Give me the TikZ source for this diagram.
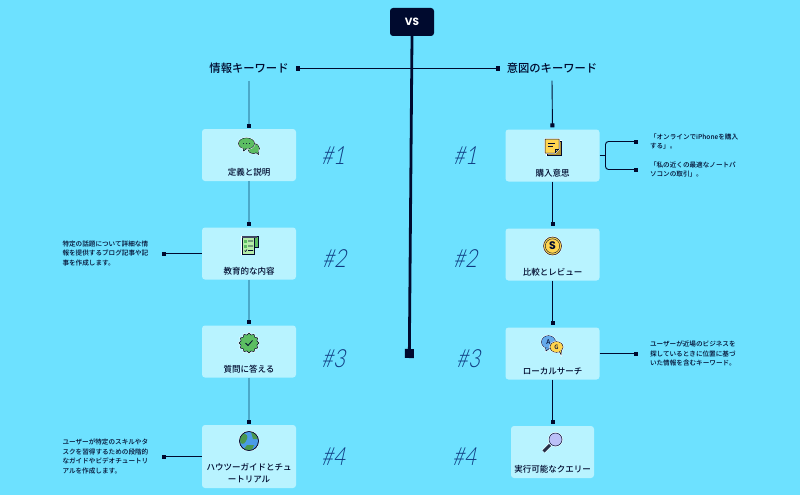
\documentclass[tikz,border=0pt]{standalone}
\usepackage{fontspec}
\setmainfont{Noto Sans CJK JP Medium}[BoldFont={Noto Sans CJK JP Bold}]
\newfontfamily\hashfont[FakeSlant=0.22,FakeStretch=0.82]{Lato Light}
\newfontfamily\vsfont{Poppins}[BoldFont={Poppins Bold}]
\usetikzlibrary{positioning,arrows.meta,shapes.geometric}
\definecolor{skybg}{HTML}{6DE1FF}
\definecolor{cardbg}{HTML}{B8F3FF}
\definecolor{navy}{HTML}{000A2E}
\definecolor{steel}{HTML}{4BA9C9}
\definecolor{hashblue}{HTML}{0F3A80}
\definecolor{leafgreen}{HTML}{5CBE62}
\definecolor{paleleaf}{HTML}{B5EDA8}
\definecolor{sun}{HTML}{FFD54F}
\definecolor{sky}{HTML}{4A9BE8}
\definecolor{lilac}{HTML}{BBC0F7}

\begin{document}
\begin{tikzpicture}[x=1pt,y=-1pt]
\tikzstyle{card}=[fill=cardbg,rounded corners=3pt,minimum width=94pt,minimum height=52pt,inner sep=0pt]
\tikzstyle{cardtext}=[font=\fontsize{8.5}{12}\selectfont,text=navy,align=center,inner sep=0pt,text depth=1.5pt]
\tikzstyle{head}=[font=\fontsize{11.3}{13}\selectfont,text=navy,inner sep=0pt,outer sep=7pt]
\tikzstyle{note}=[font=\fontsize{6.6}{9.5}\selectfont,text=navy,align=left,text width=87pt,inner sep=0pt,outer sep=12pt]
\tikzstyle{hash}=[font=\hashfont\fontsize{25}{25}\selectfont,text=hashblue,inner sep=0pt]
\tikzstyle{softwire}=[draw=steel,line width=1.8pt,-{Square[length=4pt,width=4pt,color=navy]}]
\tikzstyle{wire}=[draw=navy,line width=0.9pt,-{Square[length=4pt,width=4pt]}]
\tikzstyle{icon}=[draw=navy,line width=0.5pt,preaction={draw=white,line width=1.5pt}]

\useasboundingbox (0,0) rectangle (800,495);
\fill[skybg] (0,0) rectangle (800,495);

\node[fill=navy,rounded corners=3pt,minimum width=44pt,minimum height=28pt,inner sep=0pt,text=white,font=\vsfont\bfseries\fontsize{10.5}{10.5}\selectfont] (vs) at (412,22) {VS};
\coordinate (vsend) at (409.3,358);
\draw[draw=navy,line width=2.8pt,-{Square[length=9pt,width=9pt]}] (vs.south) -- (vsend);

\node[head] (info) at (249,68.5) {情報キーワード};
\node[head] (intent) at (552,68.5) {意図のキーワード};
\draw[wire,{Square[length=4pt,width=4pt]}-{Square[length=4pt,width=4pt]}] (info.east) -- (intent.west);

\node[card] (define) at (249,155) {};
\node[card] (teach) at (249,253.5) {};
\node[card] (answer) at (249,351.5) {};
\node[card,minimum height=63pt] (howto) at (249,456.5) {};
\node[card] (buy) at (552.5,155.5) {};
\node[card] (compare) at (552.5,254.5) {};
\node[card] (local) at (552.5,353.5) {};
\node[card,minimum width=83pt] (query) at (552.5,452) {};

\node[cardtext,above=4pt of define.south] (definelabel) {定義と説明};
\node[cardtext,above=4pt of teach.south] (teachlabel) {教育的な内容};
\node[cardtext,above=4pt of answer.south] (answerlabel) {質問に答える};
\node[cardtext,above=4pt of howto.south] (howtolabel) {ハウツーガイドとチュ\\ートリアル};
\node[cardtext,above=4pt of buy.south] (buylabel) {購入意思};
\node[cardtext,above=4pt of compare.south] (comparelabel) {比較とレビュー};
\node[cardtext,above=4pt of local.south] (locallabel) {ローカルサーチ};
\node[cardtext,above=4pt of query.south] (querylabel) {実行可能なクエリー};

\draw[softwire,shorten >=1pt] (info.south) -- (define.north);
\draw[softwire,shorten >=1pt] (define.south) -- (teach.north);
\draw[softwire,shorten >=1pt] (teach.south) -- (answer.north);
\draw[softwire,shorten >=1pt] (answer.south) -- (howto.north);
\draw[wire,shorten >=2pt] (intent.south) -- (buy.north);
\draw[wire,shorten >=2pt] (buy.south) -- (compare.north);
\draw[wire,shorten >=2pt] (compare.south) -- (local.north);
\draw[wire,shorten >=2pt] (local.south) -- (query.north);

\node[note] (teachnote) at (106,253.5) {特定の話題について詳細な情\\報を提供するブログ記事や記\\事を作成します。};
\node[note] (howtonote) at (106,456.5) {ユーザーが特定のスキルやタ\\スクを習得するための段階的\\なガイドやビデオチュートリ\\アルを作成します。};
\node[note] (buynoteone) at (693.5,141.5) {「オンラインでiPhoneを購入\\する」。};
\node[note] (buynotetwo) at (693.5,169.5) {「私の近くの最適なノートパ\\ソコンの取引」。};
\node[note] (localnote) at (693.5,353.5) {ユーザーが近場のビジネスを\\探しているときに位置に基づ\\いた情報を含むキーワード。};

\draw[wire] (teach.west) -- (teachnote.east);
\draw[wire] (howto.west) -- (howtonote.east);
\draw[wire] (local.east) -- (localnote.west);
\coordinate (fork) at (605.5,155.5);
\draw[draw=navy,line width=0.9pt] (buy.east) -- (fork);
\draw[wire,rounded corners=3pt] (fork) |- (buynoteone.west);
\draw[wire,rounded corners=3pt] (fork) |- (buynotetwo.west);

\node[hash] (hashone) at (333,156) {\#1};
\node[hash] (hashtwo) at (334,259) {\#2};
\node[hash] (hashthree) at (333,359) {\#3};
\node[hash] (hashfour) at (333,457) {\#4};
\node[hash] (hashfive) at (465,156) {\#1};
\node[hash] (hashsix) at (465,259) {\#2};
\node[hash] (hashseven) at (468,359) {\#3};
\node[hash] (hasheight) at (464,457) {\#4};

\draw[icon,fill=leafgreen] (253.5,148.5) ellipse (6pt and 5pt);
\draw[icon,fill=leafgreen] (255,152) -- (258.5,154.5) -- (258,150) -- cycle;
\fill[leafgreen] (253.5,148.5) ellipse (5.6pt and 4.6pt);
\draw[icon,fill=leafgreen] (246.5,143.5) ellipse (8pt and 5.5pt);
\draw[icon,fill=leafgreen] (243,147.5) -- (243.5,151) -- (247,148.5) -- cycle;
\fill[leafgreen] (246.5,143.5) ellipse (7.6pt and 5.1pt);
\fill[navy] (243.5,143.5) circle (0.5pt) (246.5,143.5) circle (0.5pt) (249.5,143.5) circle (0.5pt);

\draw[icon,fill=leafgreen] (252,236.5) rectangle (258.5,247);
\draw[icon,fill=paleleaf] (242,237) rectangle (254.5,254);
\fill[navy!75] (242,236) rectangle (257,238);
\fill[leafgreen] (244,240) rectangle (247,242.5);
\fill[leafgreen] (244,245) rectangle (247,247.5);
\draw[navy,line width=0.6pt] (248,241) -- (253,241) (248,246) -- (253,246) (248,250.5) -- (253,250.5) (244.5,250.5) -- (245.5,251.5) -- (247,249.5);

\node[star,star points=12,star point ratio=1.22,minimum size=20pt,inner sep=0pt,icon,fill=leafgreen] (badge) at (249,343) {};
\draw[navy,line width=0.8pt] (245.5,343) -- (248,345.5) -- (252.5,340.5);

\draw[icon,fill=sky] (249,441) circle (9.5pt);
\fill[leafgreen!80!black] (243,433.5) .. controls (247,434) and (248,436) .. (247,439) .. controls (245,443) and (244,445) .. (240.5,443) .. controls (239.5,439) and (240.5,436) .. (243,433.5);
\fill[leafgreen!80!black] (251,432) .. controls (255,433) and (257,436) .. (258,439) -- (253,439) -- cycle;
\fill[leafgreen!80!black] (247,445) -- (254,445) -- (252,449.5) .. controls (249,450.5) and (246,450) .. (244,449) -- cycle;
\draw[navy,line width=0.5pt] (249,441) circle (9.5pt);

\draw[icon,fill=sun!70!black] (547,141) rectangle (561,155);
\draw[icon,fill=sun] (545,139) -- (559,139) -- (559,149) -- (555,153) -- (545,153) -- cycle;
\draw[navy,line width=0.7pt] (548,143) -- (555,143) (548,146.5) -- (552.5,146.5) (555,153) -- (555,149) -- (559,149);

\draw[icon,fill=sun] (552.5,246) circle (9pt);
\draw[navy,line width=0.4pt] (552.5,246) circle (7.2pt);
\node[inner sep=0pt,text=navy,font=\vsfont\bfseries\fontsize{11}{11}\selectfont] (coinsign) at (552.5,246) {S};

\draw[icon,fill=sky!85!white] (548.5,342) ellipse (7pt and 6.3pt);
\draw[icon,fill=sky!85!white] (545.5,347) -- (546,351) -- (550,348) -- cycle;
\fill[sky!85!white] (548.5,342) ellipse (6.6pt and 5.9pt);
\node[inner sep=0pt,text=navy,font=\fontsize{6.5}{6.5}\selectfont] (bubblea) at (548.5,342) {A};
\draw[icon,fill=sun] (556.5,347) ellipse (6.5pt and 5.3pt);
\draw[icon,fill=sun] (559,351) -- (561,354.5) -- (561.5,350) -- cycle;
\fill[sun] (556.5,347) ellipse (6.1pt and 4.9pt);
\node[inner sep=0pt,text=navy,font=\fontsize{6}{6}\selectfont] (bubbleg) at (556.5,347) {G};

\draw[draw=white,line width=4pt] (550,445) -- (543.5,451.5);
\draw[draw=navy!70!gray,line width=3pt] (550,445) -- (543.5,451.5);
\draw[icon,fill=lilac] (555.5,439.5) circle (6.5pt);
\end{tikzpicture}
\end{document}
